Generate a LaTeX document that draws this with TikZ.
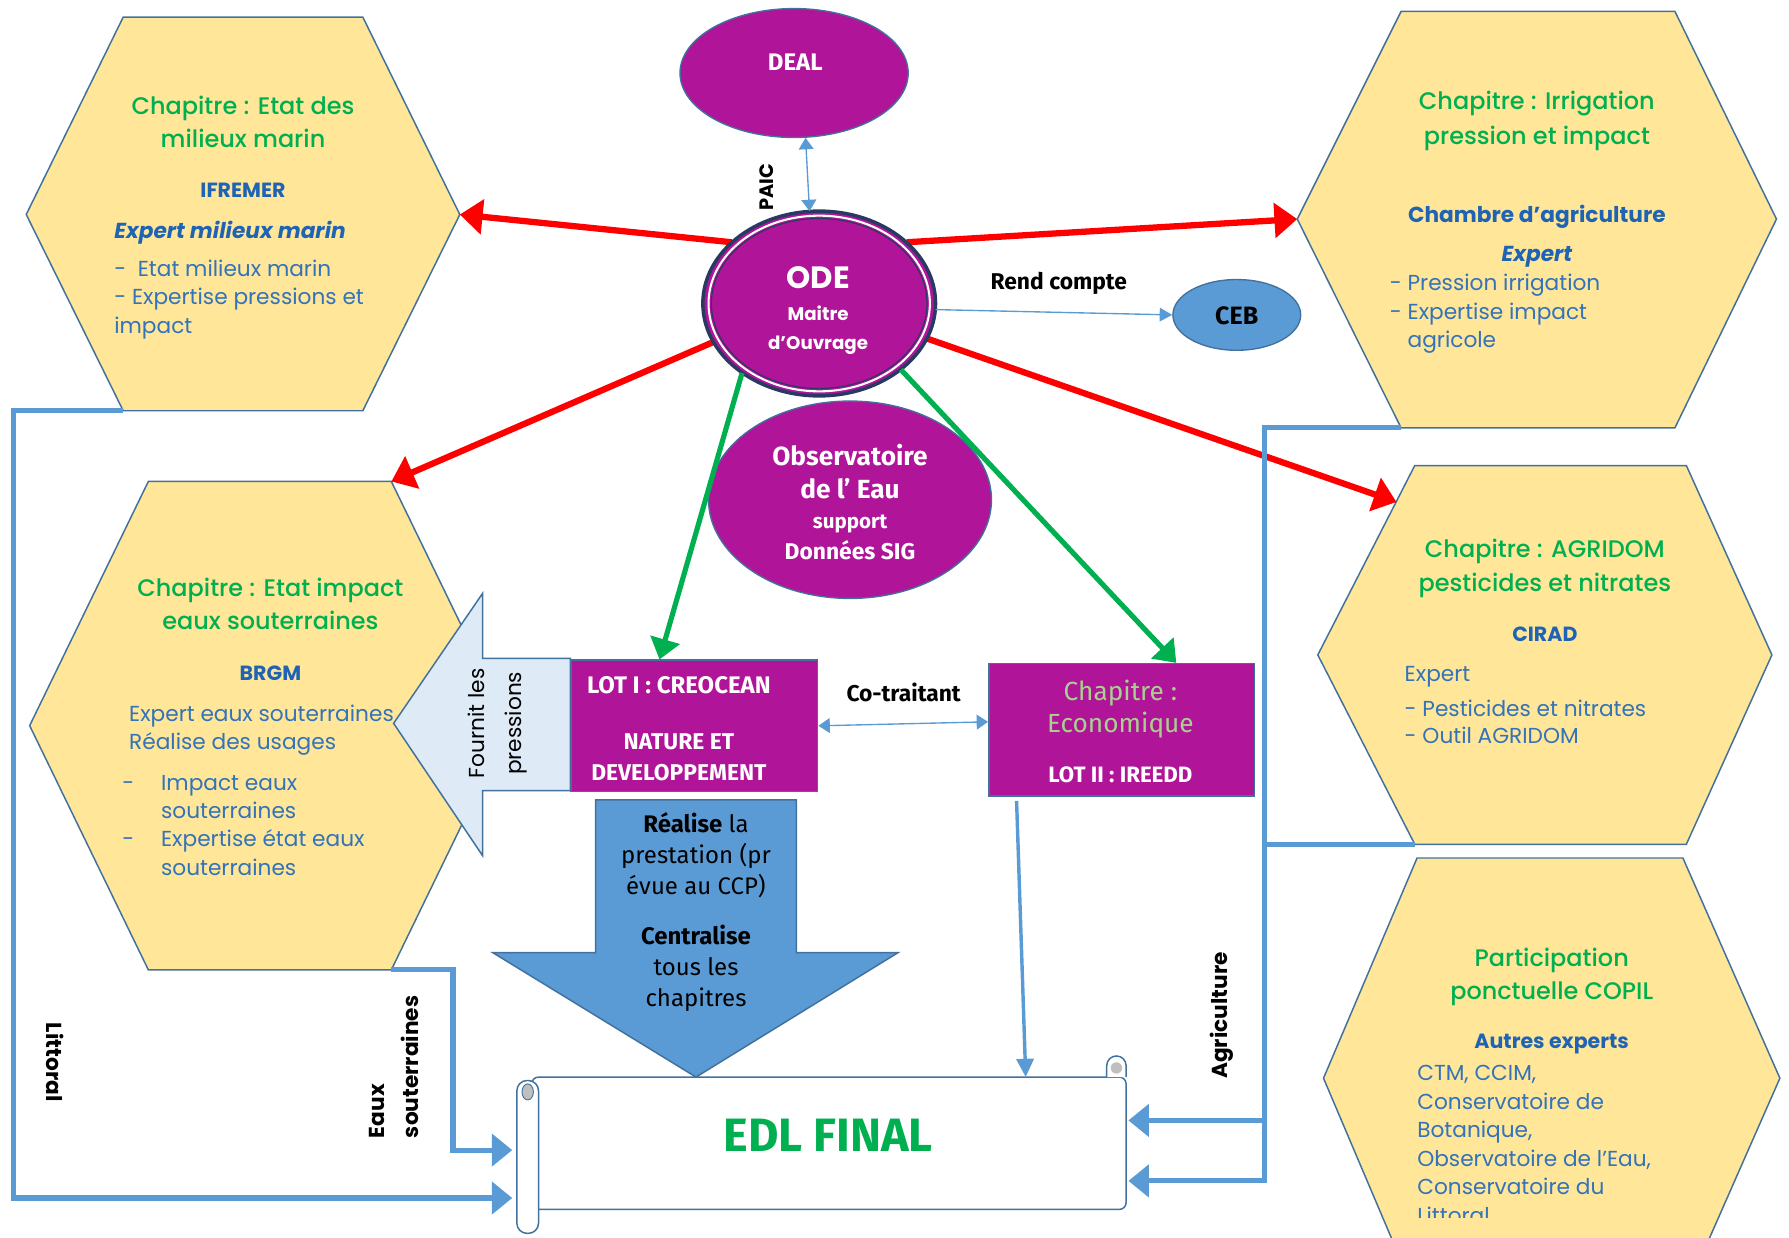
\documentclass[tikz,border=0pt]{standalone}
\usepackage{fontspec}
\setmainfont{Poppins}
\newfontfamily\medfont{Poppins Medium}
\newfontfamily\tw{Fira Sans}
\usetikzlibrary{shapes.geometric,arrows.meta,calc}
\definecolor{hexfill}{RGB}{255,230,153}
\definecolor{hexline}{RGB}{65,113,156}
\definecolor{purp}{RGB}{176,20,152}
\definecolor{tgreen}{RGB}{0,176,80}
\definecolor{orgblue}{RGB}{31,100,180}
\definecolor{bodyblue}{RGB}{50,115,185}
\definecolor{ltgreen}{RGB}{169,209,142}
\definecolor{arrblue}{RGB}{91,155,213}
\definecolor{paleblue}{RGB}{222,235,247}
\definecolor{navy}{RGB}{38,58,98}
\definecolor{arrred}{RGB}{255,0,0}
\definecolor{scrollgrey}{RGB}{191,191,191}
\tikzset{
  hexagon/.style={fill=hexfill,draw=hexline,line width=1.3pt,line join=miter},
  ttl/.style={text=tgreen,font=\medfont\fontsize{21}{29}\selectfont,align=center,anchor=base,inner sep=0pt},
  orgname/.style={text=orgblue,font=\bfseries\fontsize{18}{22}\selectfont,anchor=base,inner sep=0pt},
  expert/.style={text=orgblue,font=\bfseries\itshape\fontsize{19}{22}\selectfont,anchor=base west,inner sep=0pt},
  bodytxt/.style={text=bodyblue,font=\fontsize{19}{25}\selectfont,align=left,anchor=base west,inner sep=0pt},
  purpell/.style={ellipse,fill=purp,draw=hexline,line width=1.2pt,inner sep=0pt},
  wtxt/.style={text=white,inner sep=0pt,anchor=base},
  blacklbl/.style={text=black,inner sep=0pt},
  redarr/.style={draw=arrred,line width=5.5pt,-{Triangle[length=20pt,width=30pt]}},
  greenarr/.style={draw=tgreen,line width=4.5pt,-{Triangle[length=18pt,width=26pt]}},
  thinone/.style={draw=arrblue,line width=1.2pt,-{Triangle[length=11pt,width=12pt]}},
  thintwo/.style={draw=arrblue,line width=1.2pt,{Triangle[length=10pt,width=13pt]}-{Triangle[length=10pt,width=13pt]}},
  conn/.style={draw=arrblue,line width=4.5pt,-{Triangle[length=18pt,width=28pt]}},
  ecoline/.style={draw=arrblue,line width=3pt,-{Triangle[length=16pt,width=15pt]}},
  purpbox/.style={fill=purp,draw=hexline,line width=1.3pt,inner sep=0pt,anchor=north west},
  bigarrow/.style={fill=arrblue,draw=hexline,line width=1.3pt,line join=miter},
  palearrow/.style={fill=paleblue,draw=hexline,line width=1.3pt,line join=miter},
  scrollpart/.style={fill=white,draw=hexline,line width=1.3pt}
}
\begin{document}
\begin{tikzpicture}[x=1pt,y=-1pt]
\useasboundingbox (0,0) rectangle (1568,1085);
\clip (0,0) rectangle (1568,1085);
% ---- hexagon corners
\coordinate (h1tl) at (108,15);  \coordinate (h1tr) at (318,15);  \coordinate (h1r) at (403,188);
\coordinate (h1br) at (318,360); \coordinate (h1bl) at (108,360); \coordinate (h1l) at (23,188);
\coordinate (h2tl) at (130,422); \coordinate (h2tr) at (343,422); \coordinate (h2r) at (447,636);
\coordinate (h2br) at (343,850); \coordinate (h2bl) at (130,850); \coordinate (h2l) at (26,636);
\coordinate (h3tl) at (1228,10); \coordinate (h3tr) at (1468,10); \coordinate (h3r) at (1557,192);
\coordinate (h3br) at (1468,375);\coordinate (h3bl) at (1228,375);\coordinate (h3l) at (1137,192);
\coordinate (h4tl) at (1240,408);\coordinate (h4tr) at (1478,408);\coordinate (h4r) at (1553,574);
\coordinate (h4br) at (1478,740);\coordinate (h4bl) at (1240,740);\coordinate (h4l) at (1155,574);
\coordinate (h4e) at (1224,440);
\coordinate (h5tl) at (1242,752);\coordinate (h5tr) at (1475,752);\coordinate (h5r) at (1560,945);
\coordinate (h5br) at (1475,1138);\coordinate (h5bl) at (1242,1138);\coordinate (h5l) at (1160,945);
\foreach \h in {h1,h2,h3,h4,h5}{
  \draw[hexagon] (\h tl) -- (\h tr) -- (\h r) -- (\h br) -- (\h bl) -- (\h l) -- cycle;
}
% ---- hexagon texts (multi-line nodes: base = last line)
\node[ttl] (h1title) at (213,129) {Chapitre : Etat des\\milieux marin};
\node[orgname] (h1org) at (213,173) {IFREMER};
\node[expert] (h1exp) at (100,209) {Expert milieux marin};
\node[bodytxt] (h1list) at (100,292) {-\ \ Etat milieux marin\\- Expertise pressions et\\impact};

\node[ttl,font=\medfont\fontsize{21}{31}\selectfont] (h3title) at (1347,127) {Chapitre : Irrigation\\pression et impact};
\node[orgname,font=\bfseries\fontsize{19}{22}\selectfont] (h3org) at (1347,195) {Chambre d’agriculture};
\node[expert,anchor=base] (h3exp) at (1347,229) {Expert};
\node[bodytxt] (h3list) at (1218,305) {- Pression irrigation\\- Expertise impact\\\phantom{-\ }agricole};

\node[ttl] (h2title) at (237,552) {Chapitre : Etat impact\\eaux souterraines};
\node[orgname] (h2org) at (237,596) {BRGM};
\node[bodytxt] (h2a) at (113,657) {Expert eaux souterraines\\Réalise des usages};
\node[bodytxt] (h2d1) at (107,693) {-};
\node[bodytxt] (h2d2) at (107,742) {-};
\node[bodytxt,font=\fontsize{19}{24.7}\selectfont] (h2b) at (141,767) {Impact eaux\\souterraines\\Expertise état eaux\\souterraines};

\node[ttl] (h4title) at (1354,518) {Chapitre : AGRIDOM\\pesticides et nitrates};
\node[orgname] (h4org) at (1354,562) {CIRAD};
\node[bodytxt] (h4exp) at (1231,597) {Expert};
\node[bodytxt,font=\fontsize{19}{24}\selectfont] (h4list) at (1231,652) {- Pesticides et nitrates\\- Outil AGRIDOM};

\node[ttl] (h5title) at (1360,876) {Participation\\ponctuelle COPIL};
\node[orgname] (h5org) at (1360,919) {Autres experts};
\begin{scope}
\clip (1150,900) rectangle (1568,1067);
\node[bodytxt] (h5list) at (1242,1072) {CTM, CCIM,\\Conservatoire de\\Botanique,\\Observatoire de l’Eau,\\Conservatoire du\\Littoral};
\end{scope}

% ---- central nodes
\node[purpell,minimum width=200pt,minimum height=113pt] (deal) at (696,64) {};
\node[wtxt,font=\tw\bfseries\fontsize{21}{24}\selectfont] (dealtxt) at (697,62) {DEAL};

\node[purpell,minimum width=248pt,minimum height=173pt] (obs) at (745,438) {};
\node[wtxt,font=\tw\bfseries\fontsize{23}{29}\selectfont] (obs1) at (745,408) {Observatoire};
\node[wtxt,font=\tw\bfseries\fontsize{23}{29}\selectfont] (obs2) at (745,437) {de l’ Eau};
\node[wtxt,font=\tw\bfseries\fontsize{18}{22}\selectfont] (obs3) at (745,463) {support};
\node[wtxt,font=\tw\bfseries\fontsize{20}{24}\selectfont] (obs4) at (745,490) {Données SIG};

% ---- red arrows
\coordinate (odec) at (718,266);
\node[ellipse,minimum width=204pt,minimum height=162pt,inner sep=0pt] (ode) at (odec) {};
\draw[redarr] (ode.145) -- (h1r);
\draw[redarr] (ode.35) -- (h3l);
\draw[redarr] (ode.200) -- (h2tr);
\draw[redarr] (ode.-18) -- (h4e);

% ---- ODE
\node[ellipse,fill=purp,draw=navy,line width=3pt,minimum width=204pt,minimum height=162pt,inner sep=0pt] (odeshape) at (odec) {};
\draw[white,line width=1.8pt] (odec) ellipse[x radius=97pt,y radius=77pt];
\draw[navy,line width=1pt] (odec) ellipse[x radius=94.5pt,y radius=74.5pt];
\node[wtxt,font=\bfseries\fontsize{27}{30}\selectfont] (odetxt) at (717,253) {ODE};
\node[wtxt,font=\bfseries\fontsize{16}{25}\selectfont,align=center] (odesub) at (717,306) {Maitre\\d’Ouvrage};

\node[blacklbl,rotate=90,font=\bfseries\fontsize{17}{20}\selectfont] (paic) at (672,164) {PAIC};
\draw[thintwo] (deal.-80) -- (ode.96);

\node[blacklbl,anchor=base,font=\tw\bfseries\fontsize{20}{24}\selectfont] (rend) at (928,254) {Rend compte};
\node[ellipse,fill=arrblue,draw=hexline,line width=1.2pt,minimum width=112pt,minimum height=62pt,inner sep=0pt] (ceb) at (1084,276) {};
\node[blacklbl,anchor=base,font=\tw\bfseries\fontsize{22}{24}\selectfont] (cebtxt) at (1084,284) {CEB};
\draw[thinone] (ode.-3) -- (ceb.west);

% ---- boxes
\node[purpbox,minimum width=216pt,minimum height=115pt] (lot1) at (500,578) {};
\node[wtxt,font=\tw\bfseries\fontsize{21}{24}\selectfont] (lot1a) at (595,608) {LOT I : CREOCEAN};
\node[wtxt,font=\tw\bfseries\fontsize{20}{27}\selectfont,align=center] (lot1b) at (595,684) {NATURE ET\\DEVELOPPEMENT};

\node[purpbox,minimum width=233pt,minimum height=116pt] (eco) at (866,581) {};
\node[anchor=base,inner sep=0pt,text=ltgreen,font=\tw\fontsize{23}{28}\selectfont,align=center] (ecoa) at (982,642) {Chapitre :\\Economique};
\node[wtxt,font=\tw\bfseries\fontsize{19.5}{24}\selectfont] (ecob) at (982,686) {LOT II : IREEDD};

\node[blacklbl,anchor=base,font=\tw\bfseries\fontsize{20}{24}\selectfont] (cotr) at (792,615) {Co-traitant};
\draw[thintwo] (lot1.east) -- ($(eco.west)+(0,-7)$);

% ---- green arrows
\coordinate (g1) at (578,578);
\coordinate (g2) at (1031,581);
\draw[greenarr] (ode.222) -- (g1);
\draw[greenarr] (ode.-39) -- (g2);

% ---- scroll
\draw[scrollpart,rounded corners=6pt] (466,944) rectangle (987,1060);
\draw[scrollpart] (970,944) -- (970,934) arc[start angle=180,end angle=0,radius=8.5pt] -- (987,944);
\fill[scrollgrey] (978.5,936) circle[radius=5pt];
\draw[scrollpart,rounded corners=9pt] (453,947) rectangle (472,1081);
\draw[fill=scrollgrey,draw=hexline,line width=0.8pt] (462.5,957) ellipse[x radius=5pt,y radius=7pt];
\node[anchor=base,inner sep=0pt,text=tgreen,font=\tw\bfseries\fontsize{41}{45}\selectfont] (edl) at (726,1009) {EDL FINAL};
\coordinate (sl1) at (449,1008);
\coordinate (sl2) at (449,1050);
\coordinate (sr1) at (989,982);
\coordinate (sr2) at (989,1035);

% ---- thick blue connectors
\draw[conn] (h1bl) -- ++(-96,0) |- (sl2);
\draw[conn] (h2br) -- ++(54,0) |- (sl1);
\draw[conn] (h3bl) -- ++(-120,0) |- (sr2);
\draw[conn] (h4bl) -- ++(-132,0) |- (sr1);
\coordinate (e1) at (891,702);
\coordinate (e2) at (899,944);
\draw[ecoline] (e1) -- (e2);

% ---- big arrows
\draw[bigarrow] (522,701) -- (698,701) -- (698,835) -- (787,835) -- (610,944) -- (432,835) -- (522,835) -- cycle;
\node[anchor=base,inner sep=0pt,align=center,font=\tw\fontsize{21}{27}\selectfont] (bigtxt) at (610,882)
  {\textbf{Réalise} la\\prestation (pr\\évue au CCP)\\[17pt]\textbf{Centralise}\\tous les\\chapitres};
\draw[palearrow] (500,577) -- (423,577) -- (423,520) -- (345,634) -- (423,750) -- (423,693) -- (500,693) -- cycle;
\node[blacklbl,rotate=90,align=center,font=\fontsize{19}{33}\selectfont] (fournit) at (436,634) {Fournit les\\pressions};

% ---- rotated labels
\node[blacklbl,rotate=90,font=\bfseries\fontsize{19}{22}\selectfont] (agri) at (1071,890) {Agriculture};
\node[blacklbl,rotate=-90,font=\bfseries\fontsize{19}{22}\selectfont] (litt) at (48,931) {Littoral};
\node[blacklbl,rotate=90,align=left,font=\bfseries\fontsize{19}{30}\selectfont] (eaux) at (345,935) {Eaux\\souterraines};
\end{tikzpicture}
\end{document}
